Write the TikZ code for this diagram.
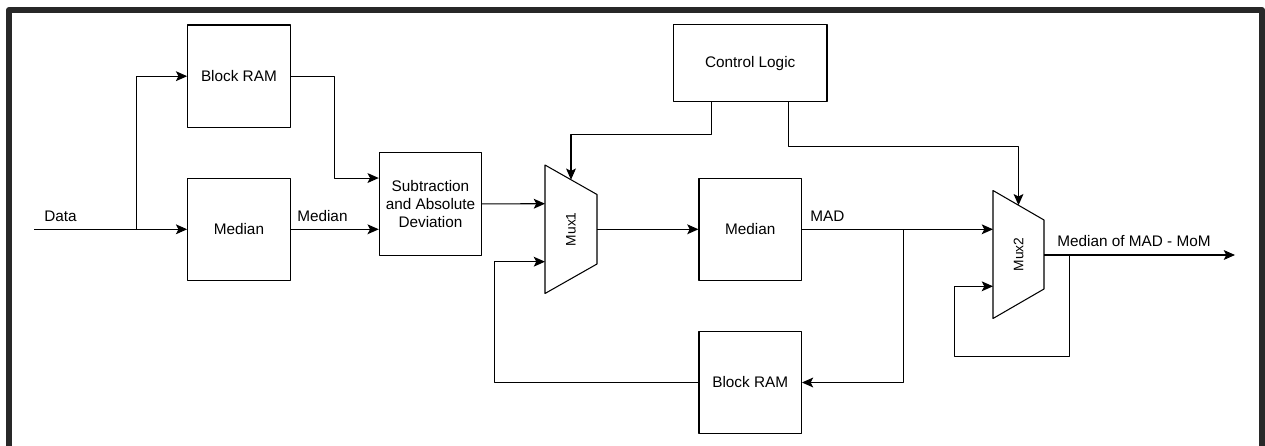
\documentclass[tikz,border=0pt]{standalone}
\usepackage{fontspec}
\setmainfont{Liberation Sans}
\usepackage{tikz}
\usetikzlibrary{arrows.meta,calc}

\tikzset{
  blk/.style={draw, line width=0.75pt, minimum width=2.56cm, minimum height=2.56cm,
              align=center, inner sep=2pt, font=\fontsize{10.9}{12.8}\selectfont},
  wire/.style={line width=0.75pt},
  arr/.style={wire, -{Stealth[length=8pt,width=7pt,inset=1.8pt]}},
  lbl/.style={anchor=base west, inner sep=0pt, font=\fontsize{10.9}{12.8}\selectfont},
  muxlbl/.style={rotate=90, inner sep=0pt, font=\fontsize{9.8}{11}\selectfont}
}

\begin{document}
\begin{tikzpicture}[x=0.025cm, y=-0.025cm, line join=round]

                \useasboundingbox (0,0) rectangle (1265,446);
                % frame
                \draw[line width=4.3pt, color={rgb,255:red,40;green,40;blue,40}, line cap=butt]
                    (9,446) -- (9,10) -- (1262,10) -- (1262,446);

                % blocks
                \node[blk] (bram1) at (238.9,76.2) {Block RAM};
                \node[blk] (med1) at (238.9,229.3) {Median};
                \node[blk] (sub) at (430.5,203.9) {Subtraction\\and Absolute\\Deviation};
                \node[blk] (med2) at (750.2,229.3) {Median};
                \node[blk] (bram2) at (750.2,382.5) {Block RAM};
                \node[blk, minimum width=3.84cm, minimum height=1.92cm] (ctrl) at (750.2,63.3) {Control Logic};

                % muxes
                \draw[wire] (545,165) -- (597,194.5) -- (597,264) -- (545,293.5) -- cycle;
                \node[muxlbl] (mux1) at (571,229.25) {Mux1};
                \coordinate (m1a) at (545,203.7);
                \coordinate (m1b) at (545,261.7);
                \coordinate (m1s) at (571,179.75);
                \coordinate (m1o) at (597,229.3);

                \draw[wire] (993,190.5) -- (1044,220) -- (1044,289) -- (993,318.5) -- cycle;
                \node[muxlbl] (mux2) at (1018.5,254.5) {Mux2};
                \coordinate (m2a) at (993,229.3);
                \coordinate (m2b) at (993,286.3);
                \coordinate (m2s) at (1018.5,205.25);
                \coordinate (m2o) at (1044,255);

                % input side
                \coordinate (in) at (34,229.3);
                \coordinate (split) at (136.3,229.3);
                \draw[arr] (in) -- (med1.west);
                \draw[arr] (split) |- (bram1.west);
                \draw[arr] (bram1.east) -- (334.3,76.2) |- ($(sub.north west)!.25!(sub.south west)$);
                \draw[arr] (med1.east) -- (sub.west |- med1);
                \draw[arr] (sub.east) -- (m1a);
                \draw[arr] (m1o) -- (med2.west);

                % MAD path and feedback
                \coordinate (tap) at (903.7,229.3);
                \draw[arr] (med2.east) -- (m2a);
                \draw[arr] (tap) |- (bram2.east);
                \draw[arr] (bram2.west) -| (494.3,320) |- (m1b);

                % control lines
                \draw[arr] ($(ctrl.south west)!.25!(ctrl.south east)$) -- ++(0,32) -| (m1s);
                \draw[arr] ($(ctrl.south west)!.75!(ctrl.south east)$) -- ++(0,44.3) -| (m2s);

                % output
                \coordinate (out) at (1235,255);
                \coordinate (loop) at (1069.7,255);
                \draw[arr] (m2o) -- (out);
                \draw[arr] (loop) -- (1069.7,356.7) -| (954.7,300) |- (m2b);

                % labels
                \node[lbl] (l1) at (44,221.7) {Data};
                \node[lbl] (l2) at (297,221.7) {Median};
                \node[lbl] (l3) at (810,221.7) {MAD};
                \node[lbl] (l4) at (1057,246.7) {Median of MAD - MoM};

\end{tikzpicture}
\end{document}
